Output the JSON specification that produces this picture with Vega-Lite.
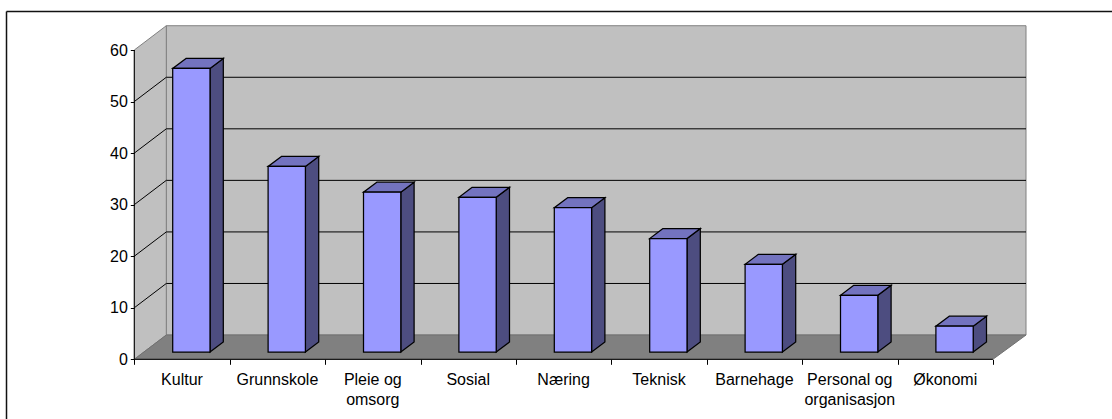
{"$schema":"https://vega.github.io/schema/vega-lite/v6.json","width":1112,"height":419,"padding":0,"autosize":"none","background":"white","config":{"view":{"stroke":null}},
"resolve":{"axis":{"x":"independent","y":"independent"}},
"datasets":{"bars":[{"order":0,"category":"Kultur","value":55},{"order":1,"category":"Grunnskole","value":36},{"order":2,"category":"Pleie og omsorg","value":31},{"order":3,"category":"Sosial","value":30},{"order":4,"category":"Næring","value":28},{"order":5,"category":"Teknisk","value":22},{"order":6,"category":"Barnehage","value":17},{"order":7,"category":"Personal og organisasjon","value":11},{"order":8,"category":"Økonomi","value":5}],
"depth":[{"depth":0},{"depth":1}],"grid":[{"value":10},{"value":20},{"value":30},{"value":40},{"value":50}],"one":[{"n":1}]},
"layer":[
{"data":{"name":"one"},"mark":{"type":"rect","fill":"#c0c0c0","stroke":"#808080","strokeWidth":1},"encoding":{"x":{"datum":0.3354,"type":"quantitative","axis":null,"scale":{"domain":[-1.4078,10.2484],"nice":false,"zero":false}},"x2":{"datum":9.347},"y":{"datum":64.71,"type":"quantitative","axis":null,"scale":{"domain":[-11.58,69.7],"nice":false,"zero":false}},"y2":{"datum":4.71}}},
{"data":{"name":"depth"},"transform":[{"calculate":"datum.depth*0.3354","as":"px"},{"calculate":"60+datum.depth*4.71","as":"top"},{"calculate":"datum.depth*4.71","as":"bot"}],"mark":{"type":"area","orient":"vertical","fill":"#c0c0c0","stroke":"#808080","strokeWidth":1},"encoding":{"x":{"field":"px","type":"quantitative","axis":null,"scale":{"domain":[-1.4078,10.2484],"nice":false,"zero":false}},"y":{"field":"top","type":"quantitative","axis":null,"scale":{"domain":[-11.58,69.7],"nice":false,"zero":false}},"y2":{"field":"bot"}}},
{"data":{"name":"depth"},"transform":[{"calculate":"datum.depth*0.3354","as":"xa"},{"calculate":"9+datum.depth*0.3472","as":"xb"},{"calculate":"datum.depth*4.71","as":"yy"}],"mark":{"type":"area","orient":"horizontal","fill":"#808080","stroke":"#707070","strokeWidth":1},"encoding":{"y":{"field":"yy","type":"quantitative","axis":null,"scale":{"domain":[-11.58,69.7],"nice":false,"zero":false}},"x":{"field":"xa","type":"quantitative","axis":null,"scale":{"domain":[-1.4078,10.2484],"nice":false,"zero":false}},"x2":{"field":"xb"}}},
{"data":{"name":"grid"},"transform":[{"calculate":"datum.value+4.71","as":"back"}],"mark":{"type":"rule","color":"#000000","strokeWidth":1},"encoding":{"x":{"datum":0,"type":"quantitative","axis":null,"scale":{"domain":[-1.4078,10.2484],"nice":false,"zero":false}},"x2":{"datum":0.3354},"y":{"field":"value","type":"quantitative","axis":null,"scale":{"domain":[-11.58,69.7],"nice":false,"zero":false}},"y2":{"field":"back"}}},
{"data":{"name":"grid"},"transform":[{"calculate":"datum.value+4.71","as":"back"}],"mark":{"type":"rule","color":"#000000","strokeWidth":1},"encoding":{"x":{"datum":0.3354,"type":"quantitative","axis":null,"scale":{"domain":[-1.4078,10.2484],"nice":false,"zero":false}},"x2":{"datum":9.347},"y":{"field":"back","type":"quantitative","axis":null,"scale":{"domain":[-11.58,69.7],"nice":false,"zero":false}}}},
{"data":{"name":"one"},"mark":{"type":"rule","color":"#000000","strokeWidth":1},"encoding":{"x":{"datum":0,"type":"quantitative","axis":null,"scale":{"domain":[-1.4078,10.2484],"nice":false,"zero":false}},"y":{"datum":0,"type":"quantitative","axis":{"orient":"left","offset":-134.3,"values":[0,10,20,30,40,50,60],"domain":false,"grid":false,"ticks":true,"tickSize":4,"tickColor":"#000000","tickWidth":1,"labelFont":"Liberation Sans","labelFontSize":16,"labelColor":"#000000","labelPadding":3,"title":null,"zindex":1},"scale":{"domain":[-11.58,69.7],"nice":false,"zero":false}},"y2":{"datum":60}}},
{"data":{"name":"one"},"mark":{"type":"rule","color":"#000000","strokeWidth":1},"encoding":{"x":{"datum":0,"type":"quantitative","axis":{"orient":"bottom","offset":-59.7,"values":[0,1,2,3,4,5,6,7,8,9],"domain":false,"grid":false,"ticks":true,"tickSize":5,"tickColor":"#000000","tickWidth":1,"labelOffset":47.2,"labelFont":"Liberation Sans","labelFontSize":16,"labelColor":"#000000","labelPadding":7,"labelLineHeight":20,"labelOverlap":false,"labelBound":false,"labelFlush":false,"title":null,"zindex":1,"labelExpr":"['Kultur','Grunnskole',['Pleie og','omsorg'],'Sosial','Næring','Teknisk','Barnehage',['Personal og','organisasjon'],'Økonomi',''][datum.value]"},"scale":{"domain":[-1.4078,10.2484],"nice":false,"zero":false}},"x2":{"datum":9},"y":{"datum":0,"type":"quantitative","axis":null,"scale":{"domain":[-11.58,69.7],"nice":false,"zero":false}}}},
{"data":{"name":"bars"},"transform":[{"calculate":"[0,1]","as":"depth"},{"flatten":["depth"]},{"calculate":"datum.order+0.4025+0.391+datum.depth*0.1394","as":"px"},{"calculate":"datum.value+1.416+datum.depth*1.94","as":"top"},{"calculate":"1.416+datum.depth*1.94","as":"bot"}],"mark":{"type":"area","orient":"vertical","fill":"#4d4d80","stroke":"#000000","strokeWidth":1.25},"encoding":{"detail":{"field":"category"},"x":{"field":"px","type":"quantitative","axis":null,"scale":{"domain":[-1.4078,10.2484],"nice":false,"zero":false}},"y":{"field":"top","type":"quantitative","axis":null,"scale":{"domain":[-11.58,69.7],"nice":false,"zero":false}},"y2":{"field":"bot"}}},
{"data":{"name":"bars"},"transform":[{"calculate":"[0,1]","as":"depth"},{"flatten":["depth"]},{"calculate":"datum.order+0.4025+datum.depth*0.1394","as":"xa"},{"calculate":"datum.order+0.4025+0.391+datum.depth*0.1394","as":"xb"},{"calculate":"datum.value+1.416+datum.depth*1.94","as":"yy"}],"mark":{"type":"area","orient":"horizontal","fill":"#7373bf","stroke":"#000000","strokeWidth":1.25},"encoding":{"detail":{"field":"category"},"y":{"field":"yy","type":"quantitative","axis":null,"scale":{"domain":[-11.58,69.7],"nice":false,"zero":false}},"x":{"field":"xa","type":"quantitative","axis":null,"scale":{"domain":[-1.4078,10.2484],"nice":false,"zero":false}},"x2":{"field":"xb"}}},
{"data":{"name":"bars"},"transform":[{"calculate":"datum.order+0.4025","as":"xa"},{"calculate":"datum.order+0.4025+0.391","as":"xb"},{"calculate":"datum.value+1.416","as":"top"},{"calculate":"1.416","as":"bot"}],"mark":{"type":"rect","fill":"#9999ff","stroke":"#000000","strokeWidth":1.25},"encoding":{"x":{"field":"xa","type":"quantitative","axis":null,"scale":{"domain":[-1.4078,10.2484],"nice":false,"zero":false}},"x2":{"field":"xb"},"y":{"field":"top","type":"quantitative","axis":null,"scale":{"domain":[-11.58,69.7],"nice":false,"zero":false}},"y2":{"field":"bot"}}},
{"data":{"name":"one"},"mark":{"type":"rule","color":"#111111","strokeWidth":1.5},"encoding":{"x":{"datum":-1.3396,"type":"quantitative","axis":null,"scale":{"domain":[-1.4078,10.2484],"nice":false,"zero":false}},"x2":{"datum":10.2484},"y":{"datum":67.47,"type":"quantitative","axis":null,"scale":{"domain":[-11.58,69.7],"nice":false,"zero":false}}}},
{"data":{"name":"one"},"mark":{"type":"rule","color":"#111111","strokeWidth":1.5},"encoding":{"x":{"datum":-1.3396,"type":"quantitative","axis":null,"scale":{"domain":[-1.4078,10.2484],"nice":false,"zero":false}},"y":{"datum":67.47,"type":"quantitative","axis":null,"scale":{"domain":[-11.58,69.7],"nice":false,"zero":false}},"y2":{"datum":-11.58}}}
]}
